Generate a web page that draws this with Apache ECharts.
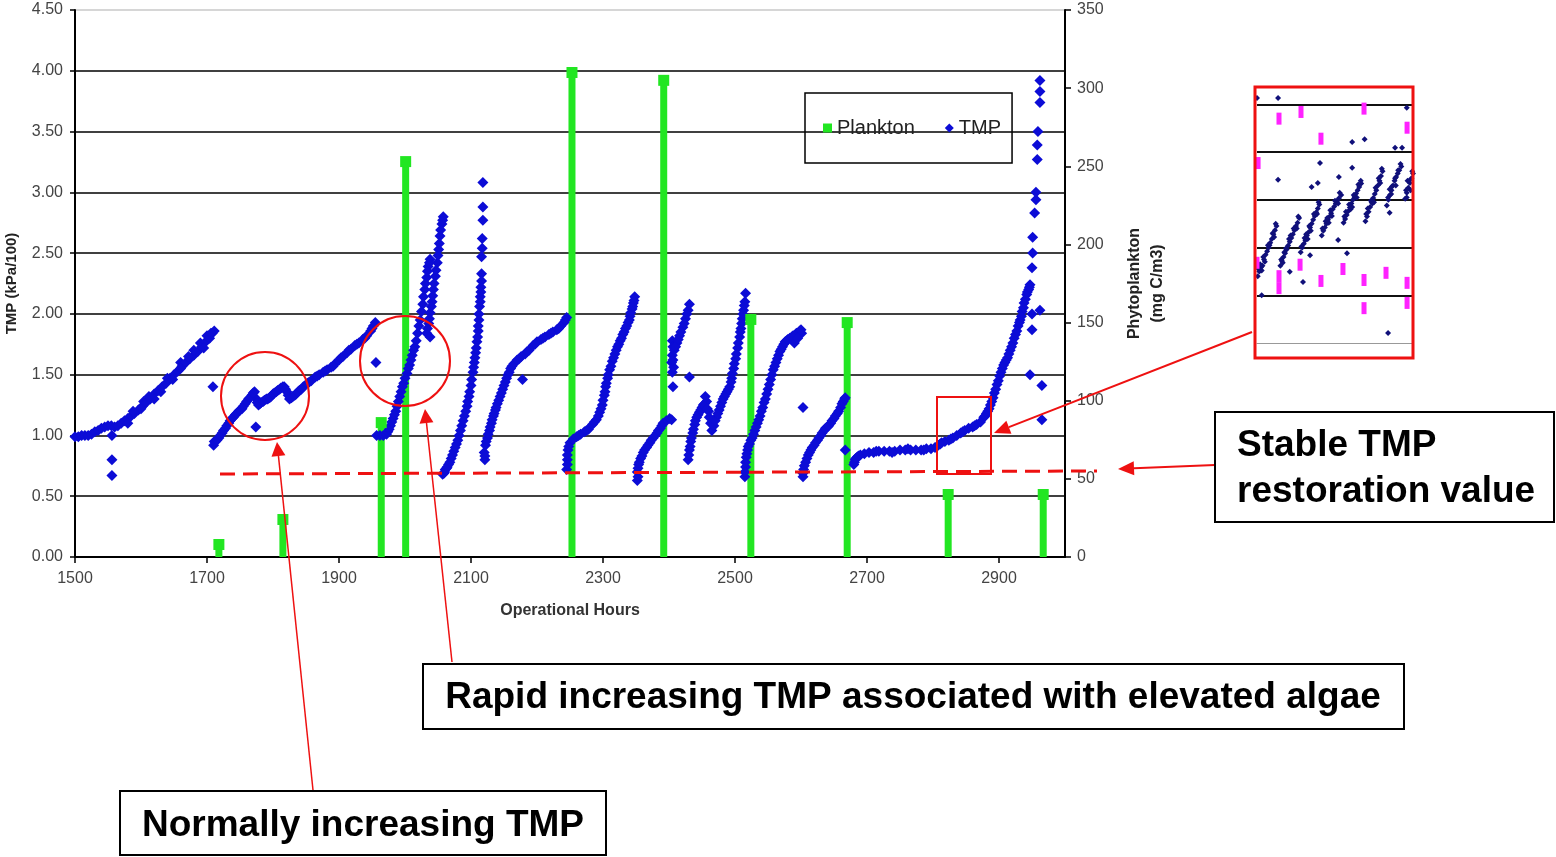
<!DOCTYPE html>
<html>
<head>
<meta charset="utf-8">
<script src="https://cdn.jsdelivr.net/npm/echarts@6.0.0/dist/echarts.min.js"></script>
<style>
  html, body { margin: 0; padding: 0; background: #fff; }
  #chart { width: 1556px; height: 857px; }
</style>
</head>
<body>
<div id="chart"></div>
<script>
// TMP readings (operational hour, TMP kPa/100), one array per filtration cycle
const run1 = [[1500,0.99],[1505,0.99],[1510,1.00],[1515,1.00],[1520,1.00],[1525,1.01],[1530,1.03],[1535,1.04],[1540,1.06],[1545,1.07],[1550,1.08],[1555,1.08],[1560,1.07],[1565,1.08],[1570,1.10],[1575,1.12],[1580,1.14],[1585,1.16],[1590,1.18],[1596,1.21],[1602,1.24],[1604,1.28],[1608,1.27],[1614,1.30],[1620,1.34],[1626,1.37],[1630,1.36],[1632,1.40],[1638,1.43],[1644,1.47],[1650,1.50],[1656,1.53],[1660,1.60],[1662,1.57],[1668,1.60],[1674,1.63],[1680,1.66],[1686,1.69],[1690,1.76],[1692,1.73],[1698,1.77],[1700,1.82],[1704,1.80],[1708,1.84],[1711,1.86],[1556,1.00],[1556,0.80],[1556,0.67],
  [1580,1.10],[1600,1.22],[1620,1.30],[1640,1.47],[1660,1.55],[1680,1.70],[1695,1.72],[1706,1.84],[1588,1.20],[1612,1.32],[1648,1.46],[1672,1.65]]
const run2 = [[1709,1.40],[1710,0.92],[1713,0.95],[1718,0.98],[1723,1.02],[1728,1.06],[1733,1.10],[1738,1.14],[1743,1.17],[1748,1.20],[1753,1.22],[1758,1.26],[1763,1.30],[1768,1.33],[1772,1.36],[1775,1.30],[1778,1.25],[1774,1.07],[1782,1.27],[1787,1.29],[1792,1.30],[1797,1.32],[1802,1.35],[1807,1.37],[1812,1.39],[1817,1.40],[1821,1.36],[1825,1.30],[1830,1.32],[1835,1.34],[1840,1.37],[1846,1.40],[1852,1.43],[1858,1.45],[1864,1.48],[1870,1.50],[1876,1.52],[1882,1.54],[1888,1.56],[1894,1.59],[1900,1.62],[1906,1.65],[1912,1.68],[1918,1.71],[1924,1.74],[1930,1.76],[1936,1.79],[1942,1.82],[1948,1.86],[1952,1.90],[1955,1.93],[1956,1.60],
  [1711,0.95],[1715,0.96],[1720,1.00],[1725,1.04],[1730,1.08],[1735,1.12],[1740,1.15],[1745,1.18],[1750,1.21],[1755,1.24],[1760,1.28],[1765,1.31],[1770,1.35],[1776,1.27],[1780,1.26],[1785,1.28],[1790,1.30],[1795,1.31],[1800,1.34],[1805,1.36],[1810,1.38],[1815,1.40],[1819,1.38],[1823,1.33],[1828,1.31],[1833,1.33],[1838,1.36],[1843,1.38],[1855,1.44],[1867,1.49],[1879,1.53],[1891,1.57],[1903,1.64],[1915,1.70],[1927,1.75],[1939,1.80],[1950,1.88]]
const run3 = [[1957,1.00],[1962,1.00],[1967,1.00],[1972,1.01],[1974,1.03],[1978,1.08],[1982,1.14],[1986,1.20],[1990,1.28],[1994,1.36],[1998,1.43],[2003,1.51],[2007,1.58],[2011,1.66],[2015,1.73],[2019,1.84],[2023,1.95],[2027,2.08],[2030,2.20],[2033,2.30],[2035,2.39],[2038,2.45],[2033,1.84],[2036,1.92],[2038,2.01],[2041,2.10],[2043,2.20],[2046,2.31],[2049,2.42],[2051,2.53],[2053,2.64],[2056,2.74],[2058,2.80],[2038,1.81],
  [1976,1.05],[1980,1.11],[1984,1.17],[1988,1.24],[1992,1.32],[1996,1.40],[2000,1.47],[2005,1.55],[2009,1.62],[2013,1.70],[2017,1.78],[2021,1.90],[2025,2.02],[2028,2.14],[2031,2.25],[2034,2.35],[2037,2.42],
  [2034,1.88],[2037,1.96],[2040,2.06],[2042,2.15],[2044,2.25],[2047,2.36],[2050,2.48],[2052,2.58],[2054,2.69],[2057,2.77]]
const run4 = [[2057,0.68],[2060,0.70],[2063,0.73],[2066,0.76],[2070,0.81],[2074,0.87],[2078,0.93],[2082,1.00],[2086,1.08],[2090,1.16],[2094,1.24],[2097,1.32],[2100,1.41],[2103,1.52],[2105,1.60],[2107,1.68],[2109,1.77],[2111,1.86],[2112,1.95],[2113,2.06],[2114,2.14],[2115,2.22],[2116,2.33],[2116,2.47],[2117,2.54],[2117,2.62],[2118,2.77],[2118,2.88],[2118,3.08],
  [2059,0.69],[2061,0.72],[2064,0.74],[2068,0.78],[2072,0.84],[2076,0.90],[2080,0.96],[2084,1.04],[2088,1.12],[2092,1.20],[2095,1.28],[2098,1.36],[2101,1.46],[2104,1.56],[2106,1.64],[2108,1.72],[2110,1.81],[2111,1.90],[2112,2.00],[2114,2.10],[2115,2.18],[2116,2.27]]
const run5 = [[2121,0.80],[2120,0.86],[2122,0.92],[2125,0.98],[2128,1.04],[2131,1.10],[2134,1.16],[2137,1.21],[2140,1.26],[2144,1.32],[2148,1.38],[2152,1.44],[2156,1.50],[2160,1.55],[2165,1.59],[2170,1.62],[2176,1.65],[2178,1.46],[2182,1.67],[2188,1.70],[2194,1.74],[2200,1.77],[2206,1.79],[2212,1.81],[2218,1.83],[2224,1.85],[2230,1.87],[2236,1.90],[2241,1.93],[2245,1.97],
  [2121,0.83],[2123,0.95],[2126,1.01],[2129,1.07],[2132,1.13],[2135,1.18],[2138,1.23],[2142,1.29],[2146,1.35],[2150,1.41],[2154,1.47],[2158,1.52],[2162,1.57],[2173,1.63],[2185,1.69],[2197,1.75],[2209,1.80],[2221,1.84],[2233,1.88],[2243,1.95]]
const run6 = [[2245,0.72],[2246,0.80],[2247,0.88],[2250,0.94],[2255,0.97],[2260,0.99],[2266,1.01],[2272,1.03],[2278,1.05],[2284,1.09],[2290,1.13],[2295,1.19],[2299,1.25],[2302,1.33],[2304,1.40],[2307,1.47],[2310,1.54],[2314,1.61],[2318,1.67],[2322,1.73],[2326,1.78],[2330,1.83],[2334,1.88],[2338,1.93],[2341,1.98],[2344,2.04],[2346,2.09],[2348,2.14],
  [2246,0.76],[2246,0.84],[2248,0.91],[2300,1.29],[2303,1.36],[2305,1.43],[2308,1.50],[2312,1.57],[2316,1.64],[2320,1.70],[2324,1.75],[2328,1.80],[2332,1.85],[2336,1.90],[2340,1.95],[2342,2.01],[2345,2.06],[2347,2.11],[2297,1.22],[2293,1.16],[2263,1.00],[2275,1.04],[2287,1.11]]
const run7 = [[2352,0.63],[2352,0.70],[2354,0.76],[2357,0.81],[2361,0.86],[2366,0.90],[2371,0.94],[2376,0.98],[2382,1.02],[2387,1.06],[2391,1.10],[2396,1.12],[2401,1.14],
  [2353,0.66],[2353,0.73],[2355,0.78],[2359,0.83],[2363,0.88],[2368,0.92],[2373,0.96],[2379,1.00],[2384,1.04],[2389,1.08]]
const run8 = [[2404,1.13],[2406,1.40],[2405,1.52],[2404,1.60],[2405,1.66],[2405,1.78],[2408,1.70],[2412,1.76],[2416,1.82],[2421,1.89],[2425,1.96],[2429,2.03],[2431,2.08],[2431,1.48],
  [2406,1.73],[2410,1.73],[2414,1.79],[2418,1.85],[2423,1.92],[2427,2.00],[2407,1.56],[2406,1.62]]
const run9 = [[2429,0.80],[2431,0.88],[2433,0.95],[2436,1.02],[2439,1.09],[2442,1.15],[2446,1.19],[2450,1.23],[2454,1.26],[2457,1.28],[2460,1.20],[2463,1.10],[2465,1.04],[2468,1.08],[2472,1.15],[2476,1.21],[2480,1.27],[2484,1.32],[2488,1.36],[2492,1.40],[2495,1.47],[2498,1.55],[2501,1.63],[2504,1.72],[2507,1.81],[2509,1.88],[2511,1.96],[2513,2.03],[2515,2.10],[2516,2.17],
  [2430,0.84],[2432,0.91],[2434,0.98],[2437,1.05],[2440,1.12],[2444,1.17],[2448,1.21],[2452,1.25],[2470,1.12],[2474,1.18],[2478,1.24],[2482,1.30],[2486,1.34],[2490,1.38],[2494,1.44],[2496,1.51],[2499,1.59],[2502,1.67],[2505,1.76],[2508,1.85],[2510,1.92],[2512,2.00],[2514,2.07],[2455,1.32],[2458,1.22],[2461,1.15]]
const run10 = [[2515,0.66],[2516,0.74],[2517,0.82],[2519,0.88],[2522,0.93],[2526,0.98],[2530,1.04],[2534,1.10],[2538,1.16],[2542,1.23],[2546,1.30],[2550,1.38],[2554,1.46],[2558,1.54],[2562,1.60],[2566,1.66],[2570,1.71],[2574,1.75],[2578,1.78],[2583,1.80],[2588,1.82],[2593,1.84],[2598,1.86],[2601,1.84],[2603,1.23],
  [2515,0.70],[2516,0.78],[2518,0.85],[2520,0.91],[2524,0.96],[2528,1.01],[2532,1.07],[2536,1.13],[2540,1.20],[2544,1.27],[2548,1.34],[2552,1.42],[2556,1.50],[2560,1.57],[2564,1.63],[2568,1.69],[2572,1.73],[2576,1.77],[2580,1.79],[2586,1.81],[2590,1.76],[2595,1.80],[2600,1.87]]
const run11 = [[2603,0.66],[2604,0.72],[2607,0.78],[2611,0.84],[2615,0.88],[2620,0.92],[2625,0.96],[2630,1.00],[2635,1.04],[2640,1.07],[2645,1.10],[2650,1.14],[2655,1.18],[2660,1.23],[2664,1.28],[2667,1.31],[2667,0.88],
  [2603,0.69],[2605,0.75],[2609,0.81],[2613,0.86],[2617,0.90],[2622,0.94],[2627,0.98],[2632,1.02],[2637,1.06],[2642,1.08],[2647,1.12],[2652,1.16],[2657,1.20],[2662,1.26],[2666,1.30]]
const run12 = [[2680,0.76],[2682,0.80],[2685,0.82],[2690,0.84],[2696,0.85],[2703,0.86],[2710,0.86],[2718,0.87],[2726,0.87],[2734,0.87],[2742,0.87],[2750,0.88],[2758,0.88],[2766,0.88],[2774,0.88],[2782,0.88],[2790,0.89],[2797,0.89],[2803,0.90],[2808,0.92],[2813,0.94],[2818,0.95],[2824,0.96],[2830,0.98],[2836,1.00],[2842,1.02],[2848,1.04],[2854,1.06],[2860,1.07],[2866,1.09],[2872,1.11],[2877,1.15],[2881,1.18],[2885,1.22],[2889,1.28],[2893,1.35],[2897,1.42],[2901,1.49],[2905,1.55],[2909,1.60],[2913,1.64],[2917,1.70],[2921,1.76],[2925,1.83],[2929,1.90],[2932,1.95],[2935,2.02],[2938,2.09],[2942,2.16],[2945,2.20],[2947,2.24],[2950,2.38],[2951,2.50],[2951,2.63],[2954,2.83],[2956,2.94],[2956,3.00],[2958,3.27],[2958,3.39],[2959,3.50],[2962,3.74],[2962,3.83],[2962,3.92],[2962,2.03],[2950,2.00],[2950,1.87],[2947,1.50],[2965,1.41],[2965,1.13],
  [2681,0.78],[2683,0.81],[2687,0.83],[2714,0.87],[2738,0.86],[2762,0.89],[2786,0.88],[2811,0.93],[2827,0.97],[2845,1.03],[2863,1.08],[2879,1.16],[2883,1.20],[2887,1.25],[2891,1.31],[2895,1.38],[2899,1.45],[2903,1.52],[2907,1.58],[2911,1.62],[2915,1.67],[2919,1.73],[2923,1.80],[2927,1.86],[2931,1.93],[2934,1.98],[2937,2.05],[2940,2.12],[2943,2.18],[2946,2.22]]

// phytoplankton samples (right axis, mg C/m3)
const planktonHours = [1718, 1815, 1964, 2001, 2253, 2392, 2524, 2670, 2823, 2967]
const planktonValues = [8, 24, 86, 253, 310, 305, 152, 150, 40, 40]

// tick labels
const tmpTicks = ['0.00', '0.50', '1.00', '1.50', '2.00', '2.50', '3.00', '3.50', '4.00', '4.50']

// zoomed inset (arbitrary units): TMP saw-tooth and plankton dashes
const insetTmp = [[0.05,1.40],[0.15,1.50],[0.25,1.58],[0.35,1.62],[0.45,1.75],[0.55,1.85],[0.65,1.92],[0.75,2.00],[0.85,2.10],[0.95,2.18],[1.05,2.28],[1.15,2.36],[1.25,2.45],[0.2,1.65],[0.5,1.70],[0.8,2.05],[1.1,2.22],
  [0.1,1.55],[0.4,1.80],[0.7,2.05],[1.0,2.30],[1.2,2.50],[0.3,1.52],
  [1.50,1.62],[1.60,1.72],[1.70,1.80],[1.80,1.88],[1.90,1.96],[2.00,2.04],[2.10,2.12],[2.20,2.20],[2.30,2.28],[2.40,2.36],[2.50,2.45],[2.60,2.52],[2.70,2.62],[1.75,1.90],[2.15,2.25],[2.55,2.40],
  [1.55,1.75],[1.85,1.98],[2.05,2.18],[2.35,2.40],[2.65,2.65],[1.65,1.68],
  [2.80,1.90],[2.90,2.00],[3.00,2.08],[3.10,2.15],[3.20,2.25],[3.30,2.32],[3.40,2.42],[3.50,2.50],[3.60,2.58],[3.70,2.66],[3.80,2.74],[3.90,2.82],[4.00,2.90],[3.05,2.20],[3.45,2.35],[3.85,2.70],
  [2.85,2.02],[3.15,2.28],[3.35,2.45],[3.65,2.70],[3.95,2.95],[3.25,2.18],
  [4.15,2.25],[4.25,2.35],[4.35,2.42],[4.45,2.50],[4.55,2.58],[4.65,2.65],[4.75,2.72],[4.85,2.80],[4.95,2.86],[5.05,2.92],[5.15,2.98],[5.25,3.03],[5.40,3.10],[4.40,2.55],[4.80,2.66],[5.20,2.92],
  [4.20,2.40],[4.50,2.62],[4.70,2.78],[5.00,2.98],[5.30,3.15],[4.60,2.52],
  [5.55,2.52],[5.65,2.60],[5.75,2.68],[5.85,2.76],[5.95,2.84],[6.05,2.92],[6.15,3.00],[6.25,3.06],[6.35,3.13],[6.45,3.20],[6.55,3.27],[6.68,3.34],[5.70,2.75],[6.10,2.85],[6.40,3.05],
  [5.60,2.65],[5.90,2.90],[6.20,3.10],[6.50,3.32],[6.65,3.40],[6.00,2.80],
  [6.95,2.55],[7.05,2.65],[7.15,2.75],[7.25,2.85],[7.35,2.95],[7.45,3.04],[7.55,3.12],[7.65,3.20],[7.75,3.30],[7.85,3.40],[7.95,3.50],[8.05,3.60],[7.10,2.82],[7.50,2.95],[7.90,3.35],
  [7.00,2.70],[7.30,2.98],[7.60,3.25],[7.80,3.45],[8.00,3.65],[7.40,2.92],
  [8.32,2.88],[8.42,3.00],[8.52,3.10],[8.62,3.20],[8.72,3.30],[8.82,3.40],[8.92,3.48],[9.02,3.55],[9.12,3.62],[9.25,3.70],[8.50,3.22],[8.90,3.30],
  [8.40,3.05],[8.65,3.28],[8.85,3.45],[9.05,3.62],[9.20,3.75],[8.60,3.12],
  [9.50,3.02],[9.60,3.15],[9.70,3.25],[9.80,3.35],[9.90,3.45],[10.0,3.55],[9.65,3.40],[9.85,3.20],
  [9.55,3.20],[9.75,3.40],[9.95,3.60],[9.60,3.05],
  [0.0,5.13],[1.35,5.13],[4.04,3.77],[6.10,4.21],[6.90,4.27],[8.85,4.09],[9.30,4.09],[9.60,4.93],[1.35,3.42],[3.50,3.27],[3.90,3.35],[5.25,3.48],[6.10,3.67],[2.10,1.49],[2.95,1.28],[0.30,1.00],[8.40,0.21],[5.77,1.88],[3.40,1.84],[5.20,2.16],[8.50,2.73]]
const insetPlankton = [[1.41,4.70],[2.82,4.84],[4.10,4.28],[6.86,4.91],[9.62,4.51],[0.07,3.77],[0.0,1.68],[1.41,1.40],[1.41,1.15],[2.76,1.64],[4.10,1.30],[5.51,1.55],[6.86,1.32],[8.27,1.47],[9.62,1.26],[6.86,0.73],[9.62,0.84]]

const RED = '#ee1111'
const FONT = '"Liberation Sans", Arial, sans-serif'

function arrow(x1, y1, x2, y2, w, head, half) {
  const dx = x2 - x1
  const dy = y2 - y1
  const len = Math.sqrt(dx * dx + dy * dy)
  const ux = dx / len
  const uy = dy / len
  const bx = x2 - ux * head
  const by = y2 - uy * head
  return [
    { type: 'line', z: 100, shape: { x1: x1, y1: y1, x2: bx, y2: by }, style: { stroke: RED, lineWidth: w } },
    { type: 'polygon', z: 100, shape: { points: [[x2, y2], [bx - uy * half, by + ux * half], [bx + uy * half, by - ux * half]] }, style: { fill: RED } },
  ]
}

function textBox(x, y, w, h) {
  return { type: 'rect', z: 100, shape: { x: x, y: y, width: w, height: h }, style: { fill: '#fff', stroke: '#000', lineWidth: 2 } }
}

function label(text, x, y, align) {
  return {
    type: 'text', z: 101, x: x, y: y,
    style: { text: text, font: 'bold 37px ' + FONT, fill: '#000', textAlign: align, align: align, textVerticalAlign: 'middle', verticalAlign: 'middle' },
  }
}

const tmpData = [].concat(run1, run2, run3, run4, run5, run6, run7, run8, run9, run10, run11, run12)
const planktonData = planktonHours.map((h, i) => [h, planktonValues[i]])

const chart = echarts.init(document.getElementById('chart'))

const graphics = [
  // stable restoration level
  { type: 'line', z: 100, shape: { x1: 220, y1: 474, x2: 1097, y2: 471 }, style: { stroke: RED, lineWidth: 3, lineDash: [15, 8] } },
  { type: 'circle', z: 100, shape: { cx: 265, cy: 396, r: 44 }, style: { fill: 'none', stroke: RED, lineWidth: 2 } },
  { type: 'circle', z: 100, shape: { cx: 405, cy: 361, r: 45 }, style: { fill: 'none', stroke: RED, lineWidth: 2 } },
  { type: 'rect', z: 100, shape: { x: 937, y: 397, width: 54, height: 77 }, style: { fill: 'none', stroke: RED, lineWidth: 2 } },
  { type: 'rect', z: 100, shape: { x: 1255, y: 87, width: 158, height: 271 }, style: { fill: 'none', stroke: RED, lineWidth: 3 } },
].concat(
  arrow(313, 790, 277, 442, 1.5, 14, 7),
  arrow(452, 662, 425, 409, 1.5, 14, 7),
  arrow(1252, 332, 994, 433, 2, 16, 7),
  arrow(1215, 465, 1118, 469, 2, 16, 7),
  [
    textBox(1215, 412, 339, 110),
    label('Stable TMP', 1237, 446, 'left'),
    label('restoration value', 1237, 492, 'left'),
    textBox(423, 664, 981, 65),
    label('Rapid increasing TMP associated with elevated algae', 913, 698, 'center'),
    textBox(120, 791, 486, 64),
    label('Normally increasing TMP', 363, 826, 'center'),
  ]
)

const option = {
  animation: false,
  backgroundColor: '#fff',
  textStyle: { fontFamily: FONT },
  grid: [
    { left: 75, top: 10, width: 990, height: 547, outerBoundsMode: 'none', containLabel: false },
    { left: 1257, top: 90, width: 156, height: 253, outerBoundsMode: 'none', containLabel: false },
  ],
  legend: {
    left: 805,
    top: 93,
    data: [{ name: 'Plankton', icon: 'rect' }, { name: 'TMP', icon: 'diamond' }],
    itemWidth: 9,
    itemHeight: 9,
    itemGap: 30,
    padding: [25, 11, 25, 18],
    borderColor: '#000',
    borderWidth: 1.5,
    textStyle: { fontSize: 20, color: '#222' },
  },
  xAxis: [
    {
      type: 'value',
      gridIndex: 0,
      min: 1500,
      max: 3000,
      interval: 200,
      name: 'Operational Hours',
      nameLocation: 'middle',
      nameGap: 46,
      nameTextStyle: { fontWeight: 'bold', fontSize: 16, color: '#333' },
      axisLine: { lineStyle: { color: '#000', width: 2 } },
      axisTick: { length: 6, lineStyle: { color: '#000', width: 1.5 } },
      axisLabel: { color: '#444', fontSize: 16, margin: 14, showMaxLabel: false, formatter: (v) => String(v) },
      splitLine: { show: false },
    },
    {
      type: 'value',
      gridIndex: 1,
      min: 0,
      max: 10,
      axisLine: { lineStyle: { color: '#999', width: 1 } },
      axisTick: { show: false },
      axisLabel: { show: false },
      splitLine: { show: false },
    },
  ],
  yAxis: [
    {
      type: 'value',
      gridIndex: 0,
      min: 0,
      max: 4.5,
      interval: 0.5,
      name: 'TMP (kPa/100)',
      nameLocation: 'middle',
      nameGap: 56,
      nameTextStyle: { fontWeight: 'bold', fontSize: 15, color: '#222' },
      axisLine: { show: true, lineStyle: { color: '#000', width: 2 } },
      axisTick: { show: true, length: 5, lineStyle: { color: '#000', width: 1.5 } },
      axisLabel: { color: '#444', fontSize: 16, margin: 12, formatter: (v) => tmpTicks[Math.round(v / 0.5)] },
      splitLine: { lineStyle: { color: ['#000', '#000', '#000', '#000', '#000', '#000', '#000', '#000', '#000', '#c8c8c8'], width: 1.5 } },
    },
    {
      type: 'value',
      gridIndex: 0,
      position: 'right',
      min: 0,
      max: 350,
      interval: 50,
      name: 'Phytoplankton\n(mg C/m3)',
      nameLocation: 'middle',
      nameRotate: 90,
      nameGap: 58,
      nameTextStyle: { fontWeight: 'bold', fontSize: 16, color: '#222', lineHeight: 23 },
      axisLine: { show: true, lineStyle: { color: '#000', width: 2 } },
      axisTick: { show: true, length: 6, lineStyle: { color: '#000', width: 1.5 } },
      axisLabel: { color: '#444', fontSize: 16, margin: 12 },
      splitLine: { show: false },
    },
    {
      type: 'value',
      gridIndex: 1,
      min: 0,
      max: 5.3,
      interval: 1,
      axisLine: { show: false },
      axisTick: { show: false },
      axisLabel: { show: false },
      splitLine: { lineStyle: { color: ['rgba(0,0,0,0)', '#111', '#111', '#111', '#111', '#111', 'rgba(0,0,0,0)'], width: 2 } },
    },
  ],
  series: [
    {
      name: 'TMP',
      type: 'scatter',
      xAxisIndex: 0,
      yAxisIndex: 0,
      symbol: 'diamond',
      symbolSize: 11,
      itemStyle: { color: '#0c0cd6', opacity: 1 },
      data: tmpData,
    },
    {
      name: 'Plankton',
      type: 'bar',
      xAxisIndex: 0,
      yAxisIndex: 1,
      barWidth: 7,
      itemStyle: { color: '#22e622' },
      data: planktonData,
    },
    {
      name: 'Plankton',
      type: 'scatter',
      xAxisIndex: 0,
      yAxisIndex: 1,
      symbol: 'rect',
      symbolSize: 11,
      itemStyle: { color: '#22e622', opacity: 1 },
      data: planktonData,
    },
    {
      name: 'inset TMP',
      type: 'scatter',
      xAxisIndex: 1,
      yAxisIndex: 2,
      symbol: 'diamond',
      symbolSize: 6,
      itemStyle: { color: '#10107a', opacity: 1 },
      data: insetTmp,
    },
    {
      name: 'inset plankton',
      type: 'scatter',
      xAxisIndex: 1,
      yAxisIndex: 2,
      symbol: 'rect',
      symbolSize: [5, 12],
      itemStyle: { color: '#ff22ff', opacity: 1 },
      data: insetPlankton,
    },
  ],
  graphic: graphics,
}

chart.setOption(option)
</script>
</body>
</html>
